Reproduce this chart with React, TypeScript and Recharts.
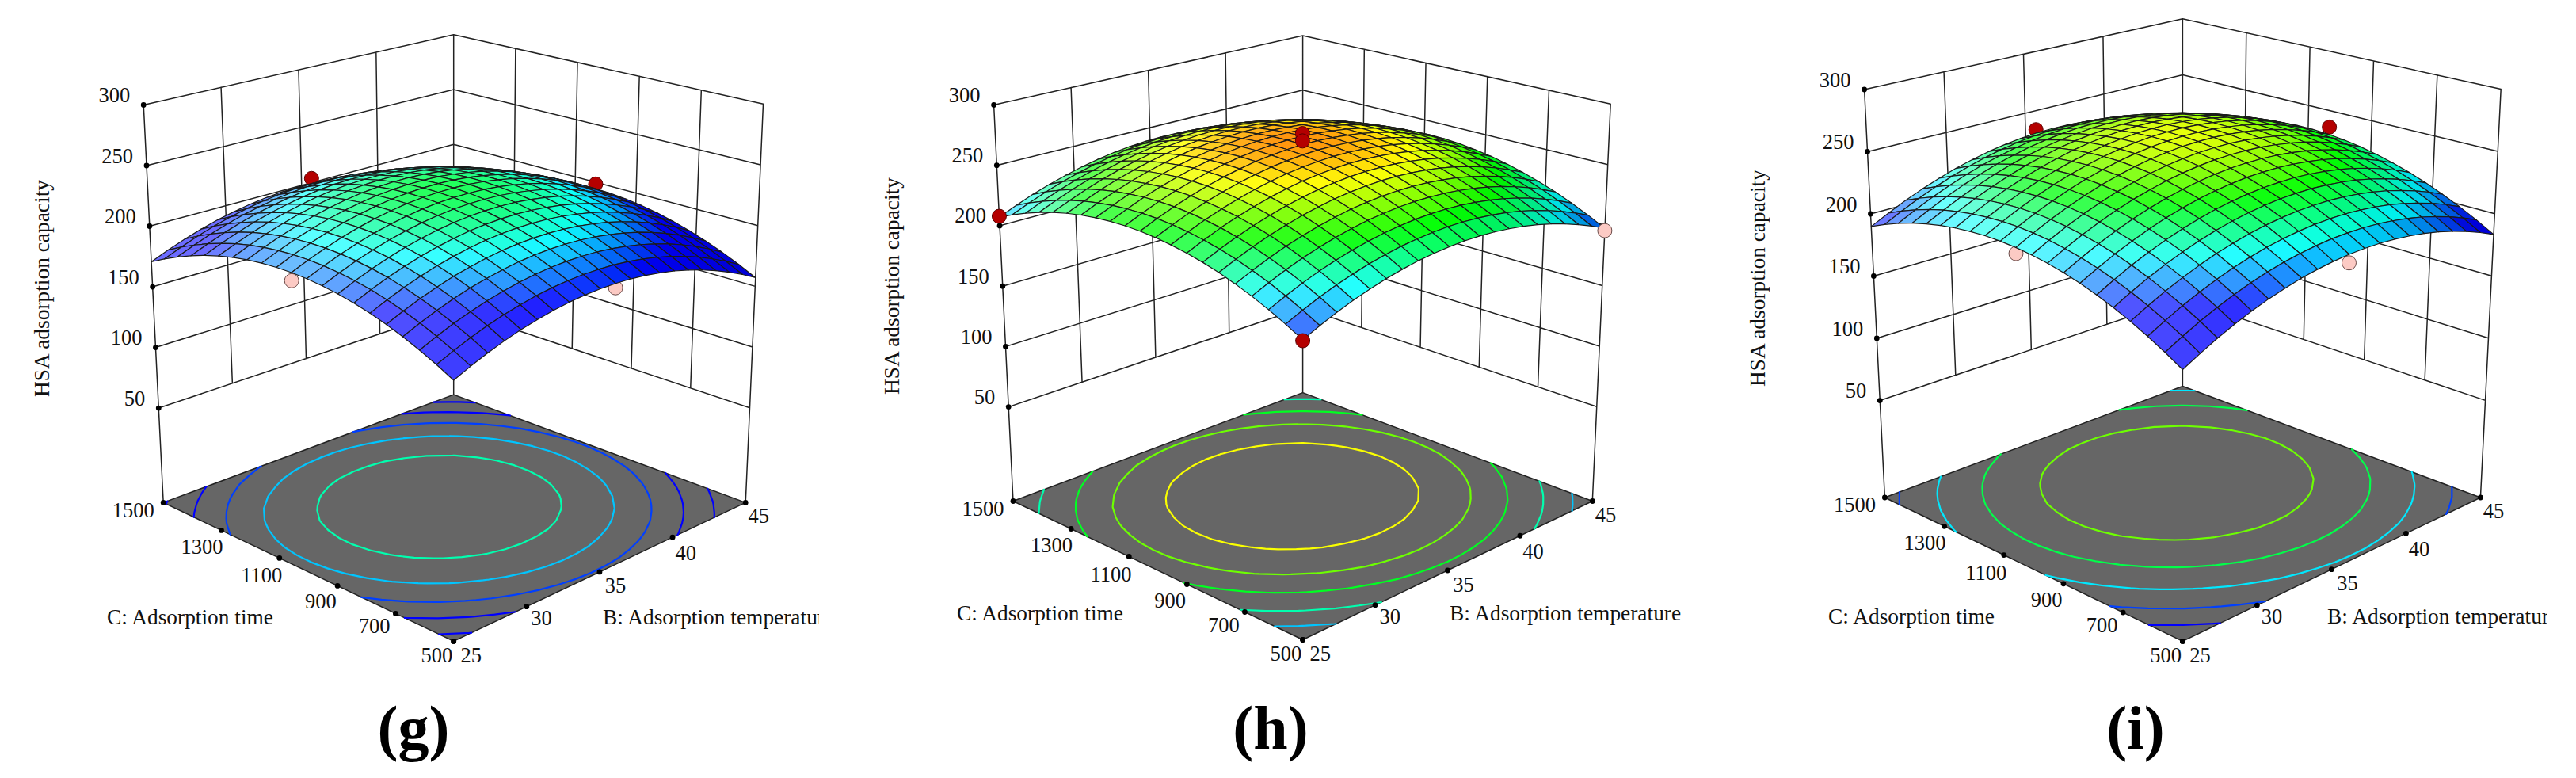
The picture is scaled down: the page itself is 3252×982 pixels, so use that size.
import { ScatterChart, Scatter, XAxis, YAxis } from 'recharts'

const WIDTH = 3252
const HEIGHT = 982
const SERIF = '"Liberation Serif", serif'

const tempTicks = [25, 30, 35, 40, 45]
const timeTicks = [500, 700, 900, 1100, 1300, 1500]
const capacityTicks = [50, 100, 150, 200, 250, 300]
const floorCapacity = -28

// mesh axes: 21 lines each way
const tempGrid = [25, 26, 27, 28, 29, 30, 31, 32, 33, 34, 35, 36, 37, 38, 39, 40, 41, 42, 43, 44, 45]
const timeGrid = [500, 550, 600, 650, 700, 750, 800, 850, 900, 950, 1000, 1050, 1100, 1150, 1200, 1250, 1300, 1350, 1400, 1450, 1500]

// panel g: capacity read along the two centre lines of the surface
const gCentre = 231.8
const gAlongTemp = [203.2, 209, 214.2, 218.7, 222.6, 225.7, 228.3, 230.2, 231.4, 231.9, 231.8, 231.1, 229.6, 227.5, 224.8, 221.4, 217.3, 212.6, 207.2, 201.2, 194.5]
const gAlongTime = [194.4, 201.3, 207.5, 213, 217.8, 221.9, 225.3, 228, 229.9, 231.2, 231.8, 231.7, 230.9, 229.4, 227.2, 224.3, 220.7, 216.3, 211.3, 205.6, 199.2]
const gContours = [220, 207.5, 196, 184.5, 172]
const gContourTones = [222.6, 211, 199.4, 187.7, 176.1]
const gPointsBehind = [
  { temp: 35, time: 1500, capacity: 203.6, high: true },
  { temp: 45, time: 1000, capacity: 198.5, high: true },
  { temp: 25, time: 1000, capacity: 196.8, high: false },
  { temp: 35, time: 500, capacity: 191, high: false },
]
const gPointsFront: typeof gPointsBehind = []

// panel h
const hCentre = 267.2
const hAlongTemp = [234.7, 240.7, 246.2, 251, 255.1, 258.7, 261.6, 264, 265.6, 266.7, 267.2, 267, 266.2, 264.8, 262.8, 260.2, 256.9, 253, 248.5, 243.4, 237.7]
const hAlongTime = [226.8, 233.9, 240.3, 246.1, 251.1, 255.5, 259.2, 262.2, 264.5, 266.2, 267.2, 267.5, 267.1, 266, 264.3, 261.9, 258.8, 255, 250.5, 245.4, 239.6]
const hContours = [254.8, 242.3, 231, 218, 206]
const hContourTones = [257.6, 246, 234.3, 222.7, 211]
const hPointsBehind: typeof gPointsBehind = []
const hPointsFront = [
  { temp: 35, time: 1000, capacity: 276.4, high: true },
  { temp: 35, time: 1000, capacity: 270.3, high: true },
  { temp: 25, time: 500, capacity: 193.6, high: true },
  { temp: 25, time: 1500, capacity: 207.8, high: true },
  { temp: 45, time: 500, capacity: 195.4, high: false },
]

// panel i
const iCentre = 254.6
const iAlongTemp = [213.5, 220.5, 227, 232.7, 237.8, 242.3, 246, 249.2, 251.6, 253.4, 254.6, 255, 254.9, 254, 252.5, 250.4, 247.6, 244.1, 240, 235.2, 229.7]
const iAlongTime = [208.2, 216, 223, 229.4, 235.1, 240.1, 244.4, 248, 250.9, 253.1, 254.6, 255.4, 255.5, 254.8, 253.5, 251.5, 248.8, 245.4, 241.3, 236.5, 231]
const iContours = [241, 226, 211, 196, 182]
const iContourTones = [246, 231, 214, 199.5, 185]
const iPointsBehind = [
  { temp: 35, time: 1500, capacity: 233.9, high: true },
  { temp: 45, time: 1000, capacity: 236, high: true },
  { temp: 25, time: 1000, capacity: 208.9, high: false },
  { temp: 35, time: 500, capacity: 201.7, high: false },
]
const iPointsFront: typeof gPointsBehind = []

type Pt = { x: number; y: number }

// view of each panel: screen positions of the eight box corners, ticks divide edges evenly
function makeView(floor: Pt[], top: Pt[]) {
  const bilerp = (q: Pt[], u: number, v: number) => ({
    x: q[0].x * (1 - u) * (1 - v) + q[1].x * u * (1 - v) + q[2].x * (1 - u) * v + q[3].x * u * v,
    y: q[0].y * (1 - u) * (1 - v) + q[1].y * u * (1 - v) + q[2].y * (1 - u) * v + q[3].y * u * v,
  })
  return (u: number, v: number, capacity: number) => {
    const t = (capacity - floorCapacity) / (300 - floorCapacity)
    const a = bilerp(floor, u, v)
    const b = bilerp(top, u, v)
    return { x: a.x + (b.x - a.x) * t, y: a.y + (b.y - a.y) * t }
  }
}

// the mesh and the design points sit in perspective, so their far half is squeezed
const depth = 0.142
const squeeze = (f: number) => (f * (1 + depth)) / (1 + depth * f)

// corner order: front, right, left, back
const panels = [
  {
    name: 'g',
    view: makeView(
      [{ x: 572.7, y: 809.4 }, { x: 941.2, y: 634.4 }, { x: 206.2, y: 634.4 }, { x: 572.7, y: 498.1 }],
      [{ x: 572.7, y: 251.9 }, { x: 963.5, y: 131.3 }, { x: 181.2, y: 132.5 }, { x: 572.7, y: 43.8 }],
    ),
    centre: gCentre, alongTemp: gAlongTemp, alongTime: gAlongTime, contours: gContours, tones: gContourTones,
    behind: gPointsBehind, front: gPointsFront,
    zTitle: { x: 53, y: 364 }, cTitle: { x: 135, y: 779 }, bTitle: { x: 761, y: 779 }, bClip: 1034, caption: { x: 522, y: 945 },
  },
  {
    name: 'h',
    view: makeView(
      [{ x: 1644.6, y: 807.5 }, { x: 2010.3, y: 632.5 }, { x: 1279, y: 632.5 }, { x: 1644.6, y: 495.6 }],
      [{ x: 1644.6, y: 248.8 }, { x: 2033.2, y: 131.3 }, { x: 1254.6, y: 132.5 }, { x: 1644.6, y: 45 }],
    ),
    centre: hCentre, alongTemp: hAlongTemp, alongTime: hAlongTime, contours: hContours, tones: hContourTones,
    behind: hPointsBehind, front: hPointsFront,
    zTitle: { x: 1126, y: 361 }, cTitle: { x: 1208, y: 774 }, bTitle: { x: 1830, y: 774 }, bClip: 2140, caption: { x: 1604, y: 945 },
  },
  {
    name: 'i',
    view: makeView(
      [{ x: 2755.4, y: 809.4 }, { x: 3131.4, y: 628 }, { x: 2379.4, y: 628 }, { x: 2755.4, y: 487.5 }],
      [{ x: 2755.4, y: 233 }, { x: 3157.2, y: 112.5 }, { x: 2353.6, y: 113 }, { x: 2755.4, y: 23.8 }],
    ),
    centre: iCentre, alongTemp: iAlongTemp, alongTime: iAlongTime, contours: iContours, tones: iContourTones,
    behind: iPointsBehind, front: iPointsFront,
    zTitle: { x: 2219, y: 351 }, cTitle: { x: 2308, y: 778 }, bTitle: { x: 2938, y: 778 }, bClip: 3216, caption: { x: 2696, y: 945 },
  },
]

type Panel = (typeof panels)[number]

const boxPoint = (p: Panel, temp: number, time: number, capacity: number) =>
  p.view((temp - 25) / 20, (time - 500) / 1000, capacity)
const dataPoint = (p: Panel, temp: number, time: number, capacity: number) =>
  p.view(squeeze((temp - 25) / 20), squeeze((time - 500) / 1000), capacity)

// label offsets from their tick dots
const timeLabelOffsets = [[-1.4, 17.5], [-6.8, 16], [-1.4, 20], [3.4, 22], [2, 20.6], [-11.5, 9.4]]
const tempLabelOffsets = [[8.8, 17.5], [5.4, 14.4], [6.8, 17.5], [3.4, 19.4], [3.4, 17]]

const clamp = (v: number, lo: number, hi: number) => Math.max(lo, Math.min(hi, v))

// Design-Expert style rainbow, blue to red
const colorStops = [194, 216, 237, 258, 279]
function rainbow(z: number): number[] {
  const v = clamp(z, colorStops[0], colorStops[4])
  let k = 0
  while (k < 3 && v > colorStops[k + 1]) k++
  const f = (v - colorStops[k]) / (colorStops[k + 1] - colorStops[k])
  if (k === 0) return [0, 255 * f, 255]
  if (k === 1) return [0, 255, 255 * (1 - f)]
  if (k === 2) return [255 * f, 255, 0]
  return [255, 255 * (1 - f), 0]
}
const css = (c: number[]) => `rgb(${c.map((v) => Math.round(v)).join(',')})`

// light comes from the left: left flanks wash out, right flanks go deep
function shaded(z: number, slope: number) {
  const c = rainbow(z)
  const base = 0.05 + 0.23 * clamp((250 - z) / 45, 0, 1)
  const w = clamp(base * (slope < 0 ? clamp(1 + slope / 8, 0, 1) : 1) + Math.max(slope, 0) * 0.025, 0, 0.42)
  const m = slope < -6 ? clamp(1 + (slope + 6) * 0.02, 0.85, 1) : 1
  return css(c.map((v) => (v + (255 - v) * w) * m))
}

function surfaceAt(p: Panel, i: number, j: number) {
  return p.alongTemp[i] + p.alongTime[j] - p.centre
}

function surfaceCells(p: Panel) {
  const cells: { corners: Pt[]; color: string; depth: number }[] = []
  for (let i = 0; i < 20; i++) {
    for (let j = 0; j < 20; j++) {
      const a = surfaceAt(p, i, j)
      const b = surfaceAt(p, i + 1, j)
      const c = surfaceAt(p, i + 1, j + 1)
      const d = surfaceAt(p, i, j + 1)
      const slope = (b - a + c - d) / 2 - (d - a + c - b) / 2
      cells.push({
        corners: [
          dataPoint(p, tempGrid[i], timeGrid[j], a),
          dataPoint(p, tempGrid[i + 1], timeGrid[j], b),
          dataPoint(p, tempGrid[i + 1], timeGrid[j + 1], c),
          dataPoint(p, tempGrid[i], timeGrid[j + 1], d),
        ],
        color: shaded((a + b + c + d) / 4, slope),
        depth: i + j,
      })
    }
  }
  return cells.sort((m, n) => n.depth - m.depth)
}

// marching squares over the same grid, drawn on the floor
function contourSegments(p: Panel, level: number) {
  const out: Pt[] = []
  const cross = (t0: number, c0: number, z0: number, t1: number, c1: number, z1: number) => {
    if (z0 < level === z1 < level) return null
    const f = (level - z0) / (z1 - z0)
    return dataPoint(p, t0 + (t1 - t0) * f, c0 + (c1 - c0) * f, floorCapacity)
  }
  for (let i = 0; i < 20; i++) {
    for (let j = 0; j < 20; j++) {
      const t0 = tempGrid[i]
      const t1 = tempGrid[i + 1]
      const c0 = timeGrid[j]
      const c1 = timeGrid[j + 1]
      const a = surfaceAt(p, i, j)
      const b = surfaceAt(p, i + 1, j)
      const c = surfaceAt(p, i + 1, j + 1)
      const d = surfaceAt(p, i, j + 1)
      const hits = [
        cross(t0, c0, a, t1, c0, b),
        cross(t1, c0, b, t1, c1, c),
        cross(t1, c1, c, t0, c1, d),
        cross(t0, c1, d, t0, c0, a),
      ].filter(Boolean) as Pt[]
      if (hits.length >= 2) out.push(hits[0], hits[1])
      if (hits.length === 4) out.push(hits[2], hits[3])
    }
  }
  return out
}

function wallSegments(p: Panel) {
  const out: Pt[] = []
  const seg = (a: Pt, b: Pt) => out.push(a, b)
  capacityTicks.forEach((z) => {
    seg(boxPoint(p, 25, 1500, z), boxPoint(p, 45, 1500, z))
    seg(boxPoint(p, 45, 1500, z), boxPoint(p, 45, 500, z))
  })
  tempTicks.slice(1, -1).forEach((t) => seg(boxPoint(p, t, 1500, 50), boxPoint(p, t, 1500, 300)))
  timeTicks.slice(1, -1).forEach((c) => seg(boxPoint(p, 45, c, 50), boxPoint(p, 45, c, 300)))
  seg(boxPoint(p, 25, 1500, floorCapacity), boxPoint(p, 25, 1500, 300))
  seg(boxPoint(p, 45, 1500, floorCapacity), boxPoint(p, 45, 1500, 300))
  seg(boxPoint(p, 45, 500, floorCapacity), boxPoint(p, 45, 500, 300))
  return out
}

const noMark = () => null

const segmentLine = (stroke: string, strokeWidth: number) => (props: any) => {
  const pts: Pt[] = props.points
  let d = ''
  for (let k = 0; k + 1 < pts.length; k += 2) {
    d += `M${pts[k].x} ${pts[k].y}L${pts[k + 1].x} ${pts[k + 1].y}`
  }
  return <path d={d} fill="none" stroke={stroke} strokeWidth={strokeWidth} strokeLinecap="round" />
}

const polygonLine = (colors: string[], stroke: string, strokeWidth: number) => (props: any) => {
  const pts: Pt[] = props.points
  return (
    <g>
      {colors.map((fill, k) => (
        <polygon
          key={k}
          points={pts.slice(k * 4, k * 4 + 4).map((q) => `${q.x},${q.y}`).join(' ')}
          fill={fill}
          stroke={stroke}
          strokeWidth={strokeWidth}
          strokeLinejoin="round"
        />
      ))}
    </g>
  )
}

const designDot = (props: any) => (
  <circle
    cx={props.cx}
    cy={props.cy}
    r={9}
    fill={props.payload.high ? '#b40000' : '#fccac4'}
    stroke={props.payload.high ? '#5a0000' : '#6a4a48'}
    strokeWidth={1}
  />
)

const tickMark = (props: any) => {
  const { label, dx, dy, anchor } = props.payload
  return (
    <g>
      <circle cx={props.cx} cy={props.cy} r={3.4} fill="#000" />
      <text
        x={props.cx + dx}
        y={props.cy + dy}
        textAnchor={anchor}
        dominantBaseline="central"
        fontFamily={SERIF}
        fontSize={26.5}
        fill="#111"
      >
        {label}
      </text>
    </g>
  )
}

function tickData(p: Panel) {
  return [
    ...capacityTicks.slice().reverse().map((z) => ({ ...boxPoint(p, 25, 1500, z), label: String(z), dx: -17, dy: -12.5, anchor: 'end' })),
    ...timeTicks.map((c, k) => ({ ...boxPoint(p, 25, c, floorCapacity), label: String(c), dx: timeLabelOffsets[k][0], dy: timeLabelOffsets[k][1], anchor: 'end' })),
    ...tempTicks.map((t, k) => ({ ...boxPoint(p, t, 500, floorCapacity), label: String(t), dx: tempLabelOffsets[k][0], dy: tempLabelOffsets[k][1], anchor: 'start' })),
  ]
}

function PanelLayers(p: Panel) {
  const cells = surfaceCells(p)
  const floor = [boxPoint(p, 25, 500, floorCapacity), boxPoint(p, 45, 500, floorCapacity), boxPoint(p, 45, 1500, floorCapacity), boxPoint(p, 25, 1500, floorCapacity)]
  const toXY = (d: { temp: number; time: number; capacity: number; high: boolean }) => ({ ...dataPoint(p, d.temp, d.time, d.capacity), high: d.high })
  return [
    <Scatter key={`${p.name}-walls`} data={wallSegments(p)} shape={noMark} line={segmentLine('#222', 1.5)} isAnimationActive={false} />,
    <Scatter key={`${p.name}-floor`} data={floor} shape={noMark} line={polygonLine(['#666666'], '#222', 1.5)} isAnimationActive={false} />,
    ...p.contours.map((level, k) => (
      <Scatter
        key={`${p.name}-c${level}`}
        data={contourSegments(p, level)}
        shape={noMark}
        line={segmentLine(css(rainbow(p.tones[k])), 2.2)}
        isAnimationActive={false}
      />
    )),
    <Scatter key={`${p.name}-behind`} data={p.behind.map(toXY)} shape={designDot} isAnimationActive={false} />,
    <Scatter
      key={`${p.name}-surface`}
      data={cells.flatMap((c) => c.corners)}
      shape={noMark}
      line={polygonLine(cells.map((c) => c.color), '#1a1a1a', 1.2)}
      isAnimationActive={false}
    />,
    <Scatter key={`${p.name}-front`} data={p.front.map(toXY)} shape={designDot} isAnimationActive={false} />,
    <Scatter key={`${p.name}-ticks`} data={tickData(p)} shape={tickMark} isAnimationActive={false} />,
  ]
}

const titleStyle = { fontFamily: SERIF, fontSize: 27.4, fill: '#111' }

export default function App() {
  return (
    <div style={{ position: 'absolute', left: 0, top: 0, width: WIDTH, height: HEIGHT, background: '#fff' }}>
      <ScatterChart width={WIDTH} height={HEIGHT} margin={{ top: 0, right: 0, bottom: 0, left: 0 }}>
        <XAxis type="number" dataKey="x" domain={[0, WIDTH]} hide />
        <YAxis type="number" dataKey="y" domain={[0, HEIGHT]} reversed hide />
        {panels.flatMap((p) => PanelLayers(p))}
        {panels.map((p) => (
          <g key={p.name}>
            <clipPath id={`b-clip-${p.name}`}>
              <rect x={p.bTitle.x - 5} y={p.bTitle.y - 30} width={p.bClip - p.bTitle.x + 5} height={60} />
            </clipPath>
            <text
              x={p.zTitle.x}
              y={p.zTitle.y}
              textAnchor="middle"
              dominantBaseline="central"
              transform={`rotate(-90 ${p.zTitle.x} ${p.zTitle.y})`}
              {...titleStyle}
            >
              HSA adsorption capacity
            </text>
            <text x={p.cTitle.x} y={p.cTitle.y} dominantBaseline="central" {...titleStyle}>
              C: Adsorption time
            </text>
            <text x={p.bTitle.x} y={p.bTitle.y} dominantBaseline="central" clipPath={`url(#b-clip-${p.name})`} {...titleStyle}>
              B: Adsorption temperature
            </text>
            <text x={p.caption.x} y={p.caption.y} textAnchor="middle" fontFamily={SERIF} fontWeight="bold" fontSize={78} fill="#000">
              ({p.name})
            </text>
          </g>
        ))}
      </ScatterChart>
    </div>
  )
}
